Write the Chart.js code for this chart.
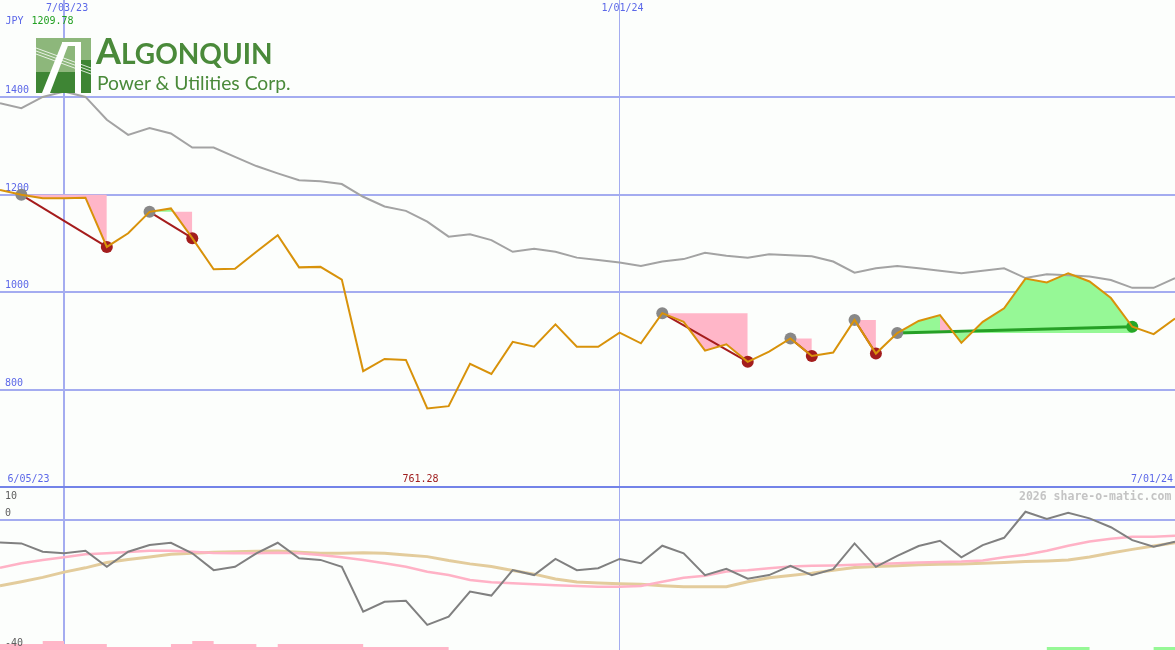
<!DOCTYPE html>
<html><head><meta charset="utf-8">
<script src="https://cdn.jsdelivr.net/npm/chart.js@4.4.1/dist/chart.umd.min.js"></script>
<style>
html,body{margin:0;padding:0;background:#fcfefc;}
#wrap{position:relative;width:1175px;height:650px;overflow:hidden;background:#fcfefc;}
canvas{position:absolute;left:0;}
#top{top:0;z-index:2;} #bot{top:487px;z-index:1;}
#sep{position:absolute;left:0;top:486px;width:1175px;height:2px;background:#7383e8;z-index:5;}
.t{position:absolute;font:10px "DejaVu Sans Mono",monospace;white-space:nowrap;line-height:12px;z-index:6;}
#logoA{position:absolute;left:96px;top:32px;color:#4a8a3a;font-family:Lato,sans-serif;font-weight:700;white-space:nowrap;font-size:36px;line-height:36px;z-index:6;}
#logoB{position:absolute;left:97px;top:73px;color:#4a8a3a;font-family:Lato,sans-serif;font-weight:400;white-space:nowrap;font-size:19.3px;line-height:20px;z-index:6;}
</style></head><body>
<div id="wrap">
<canvas id="bot" width="1175" height="163"></canvas>
<canvas id="top" width="1175" height="487"></canvas>
<div id="sep"></div>
<svg style="position:absolute;left:36px;top:38px;z-index:6" width="55" height="55" viewBox="0 0 55 55">
 <rect width="55" height="55" fill="#8db77b"/>
 <rect y="34" width="55" height="21" fill="#3e8534"/>
 <rect x="40" y="22" width="15" height="33" fill="#3e8534"/>
 <line x1="0" y1="10" x2="55" y2="30" stroke="#fff" stroke-width="0.8"/>
 <line x1="0" y1="13" x2="55" y2="33" stroke="#fff" stroke-width="0.8"/>
 <line x1="0" y1="16" x2="55" y2="36" stroke="#fff" stroke-width="0.8"/>
 <polygon points="6,55 14,55 33,5 26,5" fill="#fff"/>
 <rect x="26" y="4" width="19" height="4" fill="#fff"/>
 <rect x="39" y="4" width="6" height="51" fill="#fff"/>
</svg>
<div id="logoA"><span>A</span><span style="font-size:28px">LGONQUIN</span></div>
<div id="logoB">Power &amp; Utilities Corp.</div>
<div class="t" style="left:5.5px;top:15px;color:#5c68e8">JPY</div>
<div class="t" style="left:31.5px;top:15px;color:#22a022">1209.78</div>
<div class="t" style="left:7.5px;top:473px;color:#5c68e8">6/05/23</div>
<div class="t" style="left:402.5px;top:473px;color:#a02020">761.28</div>
<div class="t" style="left:1131px;top:473px;color:#5c68e8">7/01/24</div>
<div class="t" style="left:1019px;top:490px;color:#c4c4c4;font-weight:bold;font-size:11.5px">2026 share-o-matic.com</div>
</div>
<script>
// ---------- data ----------
const dates = ['6/12/23','6/19/23','6/26/23','7/03/23','7/10/23','7/17/23','7/24/23','7/31/23','8/07/23','8/14/23',
 '8/21/23','8/28/23','9/04/23','9/11/23','9/18/23','9/25/23','10/02/23','10/09/23','10/16/23','10/23/23',
 '10/30/23','11/06/23','11/13/23','11/20/23','11/27/23','12/04/23','12/11/23','12/18/23','12/25/23','1/01/24',
 '1/08/24','1/15/24','1/22/24','1/29/24','2/05/24','2/12/24','2/19/24','2/26/24','3/04/24','3/11/24',
 '3/18/24','3/25/24','4/01/24','4/08/24','4/15/24','4/22/24','4/29/24','5/06/24','5/13/24','5/20/24',
 '5/27/24','6/03/24','6/10/24','6/17/24','6/24/24','7/01/24'];
const xGridLabels = ['7/03/23','1/01/24'];
const priceTicks = [800,1000,1200,1400];
const lowerTicks = [10,0,-40];

const price = [1209.78,1200,1193,1193,1194,1093,1121,1165,1172,1111,
 1047,1048,1083,1117,1051,1052,1026,838,863,861,
 761.28,766,853,832,898,888,934,888,888,917,
 895,957,939,880,893,857,878,905,869,876,
 943,874,916,941,953,896,939,967,1028,1020,
 1039,1022,988,929,914,946];
const average = [1388,1378,1401,1412,1401,1354,1323,1337,1326,1297,
 1297,1278,1259,1244,1230,1228,1222,1196,1176,1167,
 1145,1114,1119,1107,1083,1089,1083,1071,1066,1061,
 1054,1063,1068,1081,1075,1071,1078,1076,1074,1063,
 1040,1049,1054,1049,1044,1039,1044,1049,1029,1037,
 1035,1032,1025,1009,1009,1029];
const momentum = [-6.8,-7.1,-9.6,-10.1,-9.3,-14.2,-9.6,-7.6,-6.9,-10.1,
 -15.2,-14.2,-10.1,-6.9,-11.6,-12.1,-14.2,-27.8,-24.8,-24.5,
 -31.8,-29.3,-21.7,-22.9,-15.2,-16.7,-11.8,-15.2,-14.6,-11.8,
 -13.1,-7.8,-10.1,-16.7,-14.8,-17.8,-16.7,-13.9,-16.7,-14.9,
 -7.1,-14.2,-10.9,-7.9,-6.3,-11.3,-7.6,-5.4,2.5,0.3,
 2.2,0.5,-2.2,-6.1,-8.1,-6.6];
const fastAvg = [-14.5,-13.1,-12.1,-11.3,-10.4,-10.1,-9.7,-9.3,-9.3,-9.6,
 -10,-10.1,-10.1,-9.9,-10.1,-10.6,-11.3,-12.1,-13.1,-14.2,
 -15.7,-16.7,-18.2,-18.9,-19.2,-19.5,-19.8,-20,-20.2,-20.2,
 -20,-18.7,-17.5,-16.9,-15.6,-15.2,-14.6,-14.1,-13.9,-13.8,
 -13.6,-13.3,-13.1,-12.9,-12.7,-12.6,-12.3,-11.3,-10.5,-9.3,
 -7.8,-6.5,-5.7,-5.1,-5.1,-4.8];
const slowAvg = [-19.9,-18.7,-17.4,-15.8,-14.5,-12.9,-12,-11.2,-10.4,-10.1,
 -9.8,-9.6,-9.5,-9.4,-9.8,-10.1,-10.1,-9.9,-10.1,-10.6,
 -11.1,-12.3,-13.3,-14.1,-15.3,-16.4,-17.9,-18.8,-19.1,-19.3,
 -19.5,-19.9,-20.2,-20.2,-20.2,-18.7,-17.5,-16.8,-16.1,-15.2,
 -14.4,-14.1,-13.9,-13.6,-13.4,-13.3,-13.1,-12.9,-12.6,-12.4,
 -12.1,-11.2,-10,-8.9,-7.9,-6.9];
const barsDown = [2,2,3,2,2,1,1,1,2,3,
 2,2,1,2,2,2,2,1,1,1,
 1,0,0,0,0,0,0,0,0,0,
 0,0,0,0,0,0,0,0,0,0,
 0,0,0,0,0,0,0,0,0,0,
 0,0,0,0,0,0];
const barsUp = [0,0,0,0,0,0,0,0,0,0,
 0,0,0,0,0,0,0,0,0,0,
 0,0,0,0,0,0,0,0,0,0,
 0,0,0,0,0,0,0,0,0,0,
 0,0,0,0,0,0,0,0,0,1,
 1,0,0,0,1,1];
const peaks = [1,7,31,37,40,42];
const troughs = [5,9,35,38,41];
const recoveries = [53];
const drops = [[1,5],[7,9],[31,35],[37,38],[40,41]];
const rises = [[42,53]];
const pullbacks = [[44,45]];

// ---------- styles ----------
const gridBlue = '#a4acf0';
const labelBlue = '#5c68e8';
const pinkFill = '#ffb6c8';
const greenFill = '#96f896';
const tickFont = {family:'"DejaVu Sans Mono", monospace', size:10};
const xGridIdx = xGridLabels.map(l => dates.indexOf(l));

function xScale(showLabels, position){
  return {
    type:'category', position: position, offset:false,
    border:{display:false},
    grid:{color:gridBlue, lineWidth: c => (c.index === 0 ? 2 : 1), drawTicks:false},
    ticks:{display:showLabels, mirror:true, padding:2.5, labelOffset:3, color:labelBlue, font:tickFont, maxRotation:0, autoSkip:false},
    afterBuildTicks: s => { s.ticks = xGridIdx.map(v => ({value:v})); },
    afterFit: s => { s.height = 0; s.paddingLeft = 0; s.paddingRight = 0; s.paddingTop = 0; s.paddingBottom = 0; }
  };
}

Chart.defaults.elements.line.tension = 0;
Chart.defaults.elements.point.radius = 0;
Chart.defaults.elements.point.hoverRadius = 0;

// ---------- top chart ----------
const topSets = [];
topSets.push({label:'price', data:price, borderColor:'#d8920a', borderWidth:2, fill:false, order:0});
topSets.push({label:'average', data:average, borderColor:'#a3a3a3', borderWidth:2, fill:false, order:3});
drops.forEach(([a,b]) => {
  topSets.push({data: dates.map((_,i) => (i>=a && i<=b) ? price[a] : null), borderColor:'rgba(0,0,0,0)', borderWidth:0,
    fill:{target:0, above:pinkFill, below:greenFill}, order:6});
  topSets.push({data: dates.map((_,i) => (i===a || i===b) ? price[i] : null), spanGaps:true, borderColor:'#a51c1c', borderWidth:2, fill:false, order:2});
});
rises.forEach(([a,b]) => {
  topSets.push({data: dates.map((_,i) => (i>=a && i<=b) ? price[a] : null), borderColor:'rgba(0,0,0,0)', borderWidth:0,
    fill:{target:0, above:greenFill, below:greenFill}, order:8});
  topSets.push({data: dates.map((_,i) => (i===a || i===b) ? price[i] : null), spanGaps:true, borderColor:'#26a026', borderWidth:3, fill:false, order:2});
  pullbacks.filter(([p]) => p > a && p < b).forEach(([p,q]) => {
    topSets.push({data: dates.map((_,i) => (i>=p && i<=q) ? price[a] : null), borderColor:'rgba(0,0,0,0)', borderWidth:0,
      fill:{target:0, above:greenFill, below:pinkFill}, order:7});
  });
});
function marks(idx, color){
  return {data: dates.map((_,i) => idx.includes(i) ? price[i] : null), showLine:false, pointRadius:6, pointBackgroundColor:color, pointBorderWidth:0, pointBorderColor:color, order:1};
}
topSets.push(marks(peaks, '#888888'));
topSets.push(marks(troughs, '#a31d1d'));
topSets.push(marks(recoveries, '#26a626'));

new Chart(document.getElementById('top'), {
  type:'line',
  data:{labels:dates, datasets:topSets},
  options:{
    responsive:false, animation:false, devicePixelRatio:1, events:[],
    layout:{padding:0, autoPadding:false},
    plugins:{legend:{display:false}, tooltip:{enabled:false}},
    scales:{
      x: xScale(true, 'top'),
      y: {min:600, max:1600, position:'left', border:{display:false},
        grid:{color:gridBlue, lineWidth:2, drawTicks:false},
        ticks:{mirror:true, padding:5, labelOffset:-6.5, color:labelBlue, font:tickFont, callback: v => String(v)},
        afterBuildTicks: s => { s.ticks = priceTicks.map(v => ({value:v})); },
        afterFit: s => { s.width = 0; s.paddingTop = 0; s.paddingBottom = 0; s.paddingLeft = 0; s.paddingRight = 0; }
      }
    }
  }
});

// ---------- bottom chart ----------
const lowerLabels = {
  id:'lowerLabels',
  afterDraw(chart){
    const s = chart.scales.y, a = chart.chartArea, ctx = chart.ctx;
    ctx.save();
    ctx.font = '10px "DejaVu Sans Mono", monospace';
    ctx.fillStyle = '#5e5e5e';
    ctx.textAlign = 'left'; ctx.textBaseline = 'middle';
    lowerTicks.forEach(v => {
      let y = s.getPixelForValue(v) - 6.5;
      y = Math.max(a.top + 9, Math.min(a.bottom - 7, y));
      ctx.fillText(String(v), 5, y);
    });
    ctx.restore();
  }
};

new Chart(document.getElementById('bot'), {
  type:'line',
  data:{labels:dates, datasets:[
    {label:'momentum', data:momentum, borderColor:'#808080', borderWidth:2, fill:false, order:0},
    {label:'fast', data:fastAvg, borderColor:'#ffb2c6', borderWidth:2.5, fill:false, order:1},
    {label:'slow', data:slowAvg, borderColor:'#e3cc9c', borderWidth:3, fill:false, order:2},
    {label:'down', data:barsDown, yAxisID:'yb', stepped:'before', borderWidth:0, borderColor:'rgba(0,0,0,0)', backgroundColor:pinkFill, fill:'origin', order:4},
    {label:'up', data:barsUp, yAxisID:'yb', stepped:'before', borderWidth:0, borderColor:'rgba(0,0,0,0)', backgroundColor:greenFill, fill:'origin', order:4}
  ]},
  options:{
    responsive:false, animation:false, devicePixelRatio:1, events:[],
    layout:{padding:0, autoPadding:false},
    plugins:{legend:{display:false}, tooltip:{enabled:false}},
    scales:{
      x: xScale(false, 'bottom'),
      y: {min:-39.4, max:10, position:'left', border:{display:false},
        grid:{color:gridBlue, lineWidth:2, drawTicks:false},
        ticks:{display:false},
        afterBuildTicks: s => { s.ticks = [{value:0}]; },
        afterFit: s => { s.width = 0; s.paddingTop = 0; s.paddingBottom = 0; }
      },
      yb: {min:0, max:54.33, display:false}
    }
  },
  plugins:[lowerLabels]
});
</script>
</body></html>
